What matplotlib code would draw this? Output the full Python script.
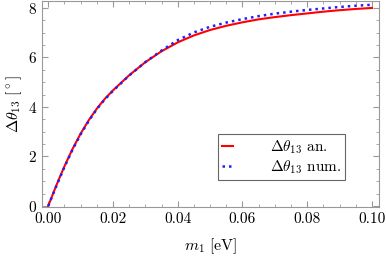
#!/usr/bin/env python3
"""
Delta theta_13 versus lightest neutrino mass: analytic vs numerical.
"""
import matplotlib
matplotlib.use("Agg")
import matplotlib.pyplot as plt
from matplotlib.ticker import MultipleLocator, FormatStrFormatter

plt.rcParams['font.family'] = 'serif'
plt.rcParams['font.serif'] = ['cmr10', 'DejaVu Serif']
plt.rcParams['mathtext.fontset'] = 'cm'
plt.rcParams['axes.formatter.use_mathtext'] = True

# values
m1 = [0.0, 0.0025, 0.005, 0.0075, 0.01, 0.0125, 0.015, 0.0175, 0.02,
      0.025, 0.03, 0.035, 0.04, 0.045, 0.05, 0.055, 0.06, 0.065, 0.07,
      0.075, 0.08, 0.085, 0.09, 0.095, 0.1]
dtheta_an = [0.0, 0.83, 1.60, 2.30, 2.92, 3.46, 3.93, 4.33, 4.67,
             5.28, 5.81, 6.25, 6.61, 6.89, 7.11, 7.28, 7.42, 7.54, 7.63,
             7.71, 7.78, 7.85, 7.91, 7.96, 8.00]
dtheta_num = [0.0, 0.80, 1.57, 2.27, 2.89, 3.43, 3.91, 4.31, 4.65,
              5.27, 5.81, 6.28, 6.70, 7.01, 7.24, 7.41, 7.55, 7.67, 7.77,
              7.85, 7.92, 7.98, 8.04, 8.09, 8.13]

fig = plt.figure(figsize=(3.86, 2.59), dpi=100)
ax = fig.add_axes([0.109, 0.201, 0.873, 0.795])

ax.plot(m1, dtheta_an, color='#ff0000', lw=1.5, label=r'$\Delta\theta_{13}$ an.')
ax.plot(m1, dtheta_num, color='#2020ff', lw=1.8, ls=(0, (1, 1.6)),
        label=r'$\Delta\theta_{13}$ num.')

ax.set_xlim(-0.0019, 0.1022)
ax.set_ylim(-0.04, 8.28)
ax.xaxis.set_major_locator(MultipleLocator(0.02))
ax.xaxis.set_minor_locator(MultipleLocator(0.005))
ax.yaxis.set_major_locator(MultipleLocator(2))
ax.yaxis.set_minor_locator(MultipleLocator(0.5))
ax.xaxis.set_major_formatter(FormatStrFormatter('%.2f'))
ax.tick_params(which='both', direction='in', top=True, right=True, color='#999999',
               labelsize=11)
ax.tick_params(which='major', length=4)
ax.tick_params(which='minor', length=2.2)
for s in ax.spines.values():
    s.set_color('#999999')
    s.set_linewidth(0.8)

ax.set_xlabel(r'$m_1\ [\mathrm{eV}]$', fontsize=11.5, labelpad=8)
ax.set_ylabel(r'$\Delta\theta_{13}\ [^\circ]$', fontsize=11.5, labelpad=3)

leg = ax.legend(loc='lower right', bbox_to_anchor=(0.923, 0.092), fontsize=11,
                handlelength=0.7, handletextpad=2.4, fancybox=False,
                edgecolor='#666666', framealpha=1, borderpad=0.3, labelspacing=0.15)
leg.get_frame().set_linewidth(0.8)

fig.savefig('out.png', dpi=100)
